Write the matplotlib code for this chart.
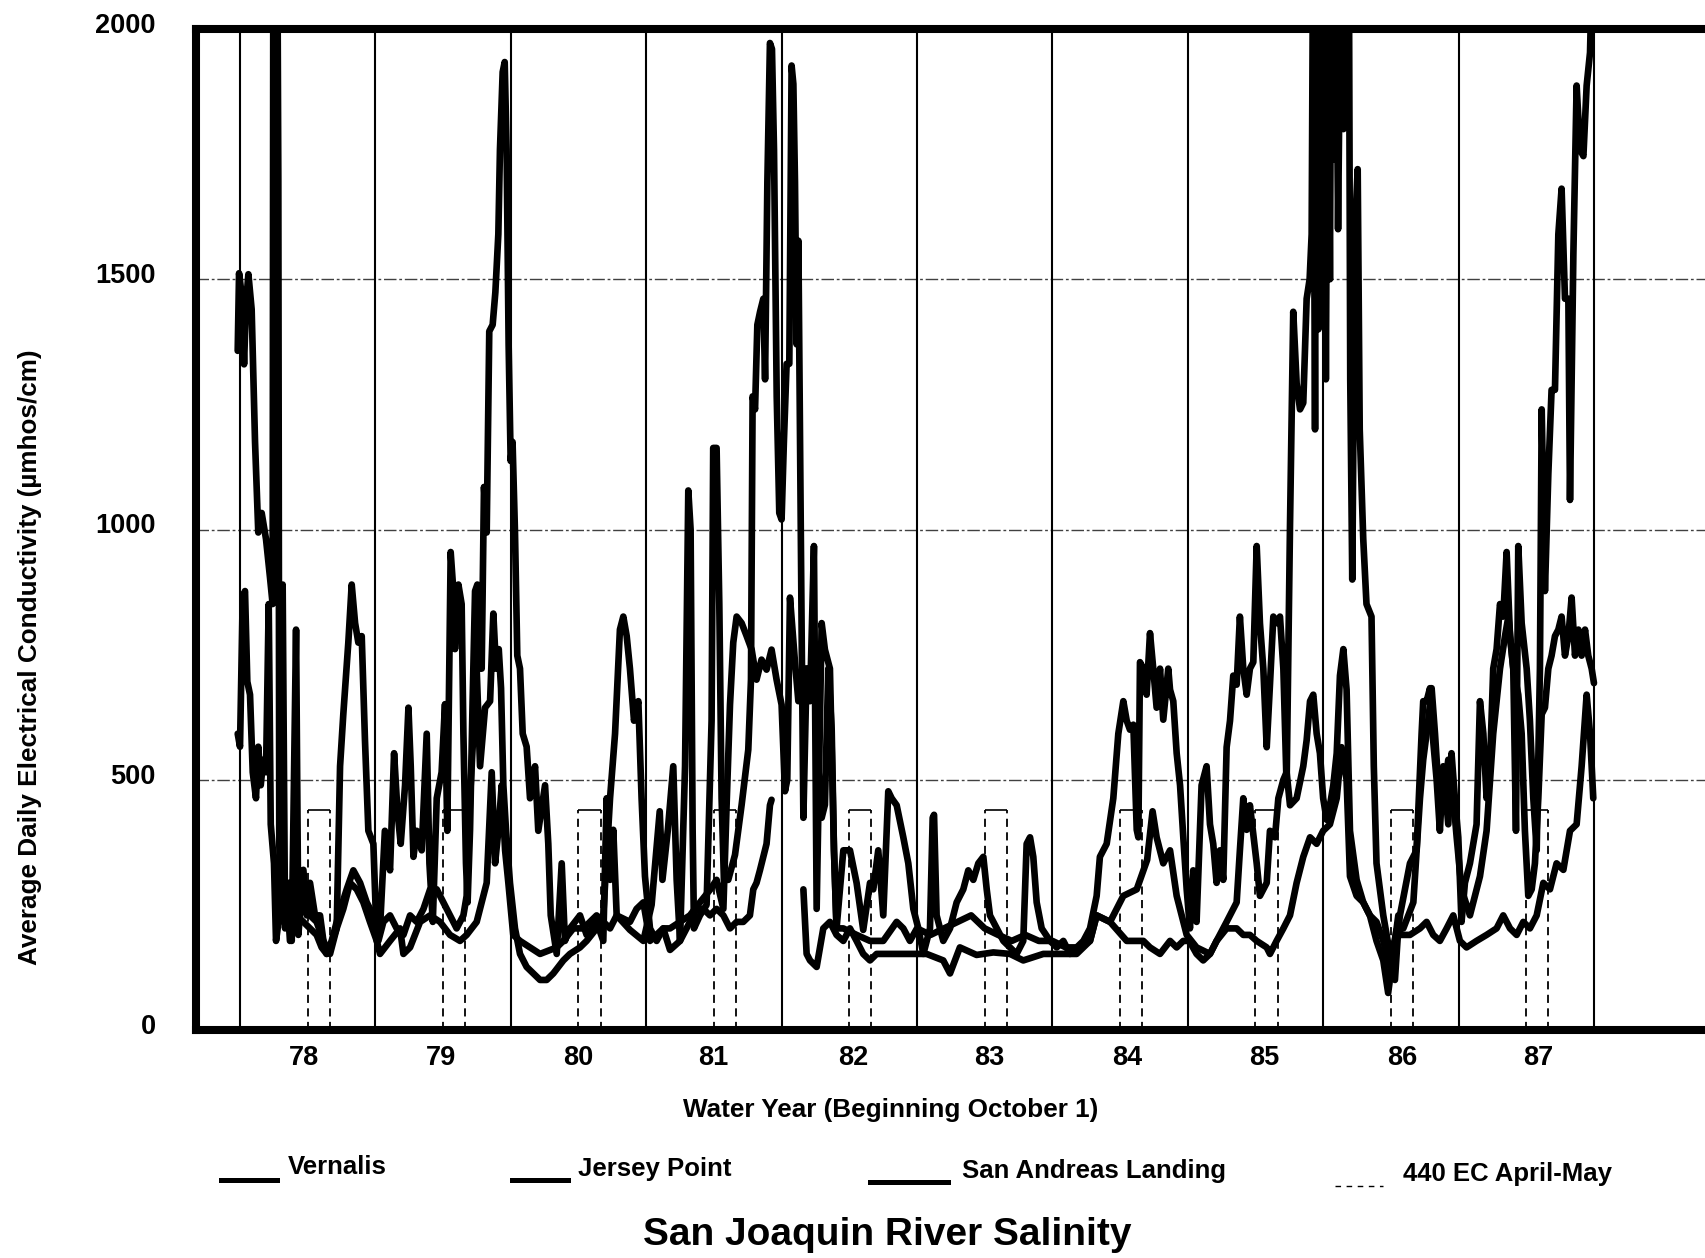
import numpy as np
import matplotlib.pyplot as plt
import matplotlib.transforms as mtransforms
from matplotlib.lines import Line2D

plt.rcParams['font.family'] = ['Liberation Sans', 'DejaVu Sans']
plt.rcParams['font.weight'] = 'bold'

# x = years counted from 1 Oct 1977 (start of water year 78)
water_years = ['78', '79', '80', '81', '82', '83', '84', '85', '86', '87']
label_pos = [0.476, 1.488, 2.500, 3.493, 4.532, 5.535, 6.555, 7.567, 8.586, 9.591]
april_may_limit = 440

# Jersey Point (the series with the big autumn peaks)
jersey_x = [-0.017, -0.007, 0.012, 0.030, 0.044, 0.062, 0.086, 0.111, 0.135, 0.160, 0.192, 0.222, 0.241, 0.246,
            0.262, 0.276, 0.283, 0.290, 0.308, 0.345, 0.369, 0.419, 0.468, 0.517, 0.566, 0.616, 0.665, 0.714,
            0.739, 0.763, 0.800, 0.825, 0.850, 0.874, 0.899, 0.923, 0.948, 0.985, 1.010, 1.034, 1.070, 1.108,
            1.138, 1.163, 1.187, 1.219, 1.244, 1.261, 1.281, 1.305, 1.342, 1.379, 1.399, 1.424, 1.453, 1.489,
            1.514, 1.531, 1.556, 1.576, 1.588, 1.613, 1.637, 1.650, 1.669, 1.681, 1.699, 1.718, 1.736, 1.753,
            1.768, 1.785, 1.802, 1.822, 1.841, 1.866, 1.886, 1.908, 1.920, 1.940, 1.955, 1.969, 1.984, 1.999,
            2.013, 2.031, 2.048, 2.068, 2.088, 2.117, 2.142, 2.179, 2.203, 2.253, 2.277, 2.295, 2.339, 2.376,
            2.400, 2.437, 2.511, 2.560, 2.634, 2.683, 2.708, 2.733, 2.757, 2.782, 2.880, 2.979, 3.040, 3.100,
            3.120, 3.160, 3.200, 3.225, 3.250, 3.287, 3.311, 3.328, 3.343, 3.353, 3.397, 3.446, 3.483, 3.495,
            3.520, 3.540, 3.557, 3.574, 3.606, 3.656, 3.705, 3.754, 3.774, 3.786, 3.804, 3.821, 3.841, 3.865,
            3.878, 3.895, 3.914, 3.929, 3.944, 3.964, 3.983, 4.000, 4.017, 4.037, 4.057, 4.074, 4.087, 4.099,
            4.111, 4.124, 4.136, 4.148, 4.161, 4.185, 4.210, 4.239, 4.259, 4.296, 4.320, 4.357, 4.387, 4.406,
            4.456, 4.505, 4.554, 4.603, 4.653, 4.677, 4.714, 4.751, 4.788, 4.813, 4.850, 4.899, 4.936, 4.973,
            5.010, 5.047, 5.096, 5.116, 5.126, 5.145, 5.194, 5.244, 5.293, 5.342, 5.379, 5.416, 5.453, 5.490,
            5.515, 5.539, 5.589, 5.638, 5.687, 5.736, 5.785, 5.810, 5.835, 5.859, 5.884, 5.921, 5.983, 6.032,
            6.081, 6.130, 6.179, 6.229, 6.278, 6.327, 6.351, 6.401, 6.450, 6.487, 6.524, 6.549, 6.573, 6.598,
            6.623, 6.635, 6.647, 6.672, 6.696, 6.721, 6.745, 6.770, 6.795, 6.819, 6.856, 6.869, 6.893, 6.918,
            6.943, 6.967, 6.992, 7.016, 7.040, 7.065, 7.102, 7.139, 7.164, 7.188, 7.213, 7.238, 7.262, 7.287,
            7.312, 7.336, 7.361, 7.385, 7.410, 7.435, 7.459, 7.484, 7.509, 7.533, 7.558, 7.583, 7.607, 7.632,
            7.656, 7.681, 7.706, 7.730, 7.755, 7.779, 7.804, 7.829, 7.853, 7.878, 7.900, 7.915, 7.925, 7.940,
            7.950, 7.965, 7.975, 7.995, 8.005, 8.020, 8.035, 8.050, 8.060, 8.080, 8.095, 8.110, 8.130, 8.150,
            8.170, 8.190, 8.200, 8.215, 8.235, 8.255, 8.270, 8.296, 8.320, 8.357, 8.374, 8.394, 8.444, 8.493,
            8.530, 8.555, 8.567, 8.641, 8.690, 8.727, 8.739, 8.764, 8.789, 8.808, 8.838, 8.862, 8.887, 8.924,
            8.948, 8.973, 8.998, 9.022, 9.047, 9.084, 9.133, 9.158, 9.183, 9.207, 9.232, 9.256, 9.281, 9.306,
            9.330, 9.355, 9.380, 9.404, 9.424, 9.441, 9.466, 9.503, 9.527, 9.552, 9.577, 9.601, 9.614, 9.638,
            9.663, 9.687, 9.712, 9.737, 9.761, 9.786, 9.811, 9.823, 9.848, 9.872, 9.897, 9.922, 9.946, 9.971,
            9.988, 9.995]
jersey_ec = [1357, 1512, 1470, 1330, 1450, 1510, 1440, 1175, 994, 1033, 981, 903, 851, 2150,
             2150, 2150, 1700, 372, 229, 281, 178, 242, 268, 229, 216, 178, 152, 203,
             527, 631, 774, 890, 813, 774, 787, 579, 398, 372, 178, 203, 398, 319,
             553, 437, 372, 489, 644, 527, 346, 398, 359, 592, 333, 216, 463, 515,
             651, 398, 955, 877, 761, 890, 851, 592, 333, 255, 400, 657, 877, 890,
             722, 722, 1085, 994, 1396, 1409, 1474, 1590, 1759, 1914, 1934, 1759, 1370, 1137,
             1175, 994, 748, 722, 592, 566, 463, 527, 398, 489, 372, 229, 152, 333,
             178, 203, 229, 190, 216, 178, 463, 300, 400, 229, 200, 178, 250, 437,
             300, 400, 527, 300, 178, 527, 1078, 1000, 400, 203, 229, 250, 618, 1163,
             1163, 851, 463, 300, 300, 350, 450, 560, 700, 1266, 1240, 1409, 1435, 1461,
             1300, 1694, 1972, 1960, 1759, 1266, 1033, 1020, 1175, 1331, 1331, 1927, 1890, 1694,
             1370, 1577, 1188, 800, 424, 722, 657, 967, 242, 813, 760, 722, 359, 203,
             359, 359, 294, 200, 294, 281, 359, 229, 477, 463, 449, 385, 333, 242,
             203, 152, 203, 424, 430, 229, 178, 203, 255, 281, 319, 300, 333, 346,
             281, 229, 203, 178, 165, 152, 178, 372, 385, 346, 255, 203, 178, 165,
             178, 152, 165, 178, 203, 268, 346, 372, 463, 592, 657, 618, 600, 610,
             400, 385, 735, 722, 670, 793, 722, 644, 722, 620, 722, 680, 657, 553,
             489, 385, 281, 203, 319, 216, 489, 527, 411, 372, 294, 359, 300, 565,
             618, 708, 690, 826, 722, 670, 722, 735, 967, 813, 722, 565, 690, 826,
             813, 826, 722, 489, 1007, 1435, 1292, 1240, 1253, 1461, 1500, 1590, 2150, 1200,
             2150, 1400, 2150, 1710, 2150, 1300, 2150, 1500, 2150, 1740, 2150, 1600, 2150, 1800,
             2150, 2150, 1300, 900, 1600, 1720, 1200, 981, 851, 826, 527, 333, 229, 152,
             100, 203, 229, 333, 359, 592, 657, 657, 683, 592, 500, 398, 527, 411,
             553, 463, 385, 216, 294, 333, 411, 657, 592, 463, 527, 722, 761, 851,
             826, 955, 787, 722, 398, 967, 813, 722, 618, 463, 359, 722, 1240, 877,
             1111, 1279, 1279, 1590, 1681, 1461, 1461, 1059, 1551, 1887, 1759, 1746, 1887, 1953,
             2150, 2150]

# Vernalis
vernalis_x = [-0.017, 0.000, 0.020, 0.037, 0.054, 0.074, 0.094, 0.118, 0.135, 0.153, 0.172, 0.192, 0.212, 0.227,
              0.251, 0.266, 0.291, 0.315, 0.333, 0.357, 0.382, 0.414, 0.431, 0.468, 0.493, 0.517, 0.554, 0.591,
              0.616, 0.640, 0.677, 0.727, 0.788, 0.837, 0.887, 0.936, 0.985, 1.022, 1.059, 1.108, 1.157, 1.207,
              1.256, 1.305, 1.355, 1.404, 1.453, 1.502, 1.551, 1.600, 1.650, 1.674, 1.699, 1.723, 1.748, 1.773,
              1.810, 1.847, 1.871, 1.891, 1.911, 1.928, 1.945, 1.965, 1.994, 2.031, 2.068, 2.117, 2.167, 2.216,
              2.265, 2.314, 2.388, 2.437, 2.511, 2.560, 2.634, 2.683, 2.733, 2.770, 2.806, 2.831, 2.856, 2.880,
              2.910, 2.942, 2.966, 2.991, 3.028, 3.077, 3.126, 3.176, 3.250, 3.323, 3.397, 3.471, 3.520, 3.570,
              3.594, 3.619, 3.643, 3.668, 3.705, 3.742, 3.779, 3.815, 3.852, 3.889, 3.926, 3.963, 4.000, 4.025,
              4.042, 4.062, 4.099, 4.124, 4.161, 4.210, 4.247, 4.271, 4.296, 4.320, 4.345, 4.370, 4.387, 4.406,
              4.456, 4.554, 4.653, 4.751, 4.850, 4.899, 4.948, 5.000, 5.100, 5.200, 5.300, 5.400, 5.500, 5.600,
              5.700, 5.800, 5.900, 6.000, 6.100, 6.200, 6.278, 6.327, 6.426, 6.524, 6.623, 6.700, 6.740, 6.770,
              6.819, 6.869, 6.918, 6.967, 6.992, 7.065, 7.164, 7.213, 7.287, 7.361, 7.385, 7.410, 7.435, 7.459,
              7.509, 7.533, 7.583, 7.607, 7.644, 7.669, 7.706, 7.730, 7.755, 7.804, 7.853, 7.878, 7.903, 7.927,
              7.952, 7.976, 8.000, 8.026, 8.050, 8.075, 8.100, 8.124, 8.149, 8.173, 8.198, 8.247, 8.296, 8.345,
              8.394, 8.444, 8.493, 8.542, 8.592, 8.666, 8.715, 8.739, 8.776, 8.801, 8.826, 8.850, 8.887, 8.924,
              8.961, 8.986, 9.022, 9.084, 9.158, 9.207, 9.256, 9.306, 9.343, 9.368, 9.404, 9.441, 9.466, 9.490,
              9.515, 9.540, 9.564, 9.589, 9.614, 9.638, 9.663, 9.687, 9.712, 9.737, 9.761, 9.786, 9.811, 9.835,
              9.860, 9.885, 9.909, 9.934, 9.958, 9.983, 10.000]
vernalis_ec = [592, 566, 864, 877, 696, 670, 515, 463, 566, 489, 540, 515, 851, 411,
               333, 178, 229, 890, 203, 294, 178, 800, 190, 320, 229, 294, 229, 229,
               178, 152, 178, 229, 281, 319, 294, 255, 229, 178, 216, 229, 203, 190,
               229, 216, 242, 281, 281, 255, 229, 203, 229, 268, 463, 592, 722, 527,
               644, 657, 832, 722, 761, 683, 489, 398, 294, 203, 152, 126, 113, 100,
               100, 113, 139, 152, 165, 178, 203, 229, 463, 592, 800, 826, 787, 722,
               618, 657, 463, 307, 203, 178, 203, 203, 216, 229, 255, 280, 300, 242,
               450, 650, 774, 826, 813, 787, 760, 700, 740, 720, 760, 700, 650, 477,
               500, 864, 735, 657, 722, 722, 693, 527, 424, 450, 722, 600, 359, 203,
               203, 190, 178, 178, 216, 203, 178, 203, 190, 203, 216, 229, 203, 190,
               178, 190, 178, 178, 165, 165, 178, 229, 216, 268, 281, 340, 437, 385,
               333, 359, 268, 216, 190, 165, 152, 178, 216, 255, 359, 463, 400, 449,
               333, 268, 294, 398, 385, 463, 500, 515, 449, 463, 527, 579, 657, 670,
               592, 553, 463, 420, 449, 489, 553, 708, 761, 680, 398, 300, 255, 229,
               216, 178, 126, 200, 203, 255, 463, 540, 618, 683, 592, 489, 463, 540,
               463, 385, 281, 229, 307, 398, 592, 722, 787, 826, 722, 670, 592, 398,
               268, 281, 333, 463, 631, 644, 722, 748, 787, 800, 826, 748, 787, 864,
               748, 800, 748, 800, 748, 722, 693]

# San Andreas Landing (record has a gap late in water year 81)
andreas_x = [0.276, 0.320, 0.369, 0.419, 0.468, 0.517, 0.566, 0.603, 0.640, 0.665, 0.714, 0.763, 0.813, 0.862,
             0.911, 0.960, 1.010, 1.034, 1.108, 1.182, 1.207, 1.256, 1.330, 1.404, 1.477, 1.551, 1.625, 1.674,
             1.748, 1.822, 1.859, 1.884, 1.908, 1.933, 1.958, 1.982, 2.018, 2.068, 2.142, 2.216, 2.339, 2.388,
             2.462, 2.536, 2.585, 2.634, 2.683, 2.733, 2.782, 2.880, 2.929, 2.979, 3.028, 3.126, 3.176, 3.250,
             3.323, 3.372, 3.422, 3.471, 3.520, 3.570, 3.619, 3.668, 3.717, 3.766, 3.791, 3.815, 3.840, 3.865,
             3.889, 3.914, 3.926, 4.040, 4.161, 4.185, 4.210, 4.259, 4.308, 4.357, 4.406, 4.456, 4.505, 4.554,
             4.603, 4.653, 4.702, 4.776, 4.850, 4.899, 4.998, 5.071, 5.194, 5.244, 5.317, 5.440, 5.564, 5.687,
             5.785, 5.933, 6.032, 6.179, 6.278, 6.327, 6.426, 6.549, 6.672, 6.721, 6.795, 6.869, 6.918, 6.967,
             7.011, 7.065, 7.114, 7.164, 7.213, 7.287, 7.361, 7.410, 7.459, 7.509, 7.583, 7.607, 7.656, 7.706,
             7.755, 7.804, 7.853, 7.903, 7.952, 8.000, 8.050, 8.100, 8.136, 8.173, 8.198, 8.247, 8.296, 8.345,
             8.394, 8.444, 8.480, 8.518, 8.555, 8.567, 8.641, 8.715, 8.764, 8.813, 8.862, 8.912, 8.961, 9.010,
             9.059, 9.133, 9.207, 9.281, 9.330, 9.380, 9.429, 9.478, 9.527, 9.577, 9.626, 9.675, 9.724, 9.774,
             9.823, 9.872, 9.909, 9.946, 9.971, 9.995]
andreas_ec = [255, 216, 242, 229, 216, 203, 190, 165, 152, 165, 203, 242, 294, 281,
              255, 216, 178, 152, 178, 203, 152, 165, 216, 229, 216, 190, 178, 190,
              216, 294, 515, 333, 398, 489, 359, 294, 190, 178, 165, 152, 165, 178,
              203, 203, 216, 229, 216, 203, 229, 216, 242, 255, 178, 203, 160, 178,
              216, 242, 242, 229, 242, 229, 203, 216, 216, 229, 281, 294, 319, 346,
              372, 449, 460, np.nan, 281, 152, 139, 126, 203, 216, 190, 178, 203, 178,
              152, 139, 152, 152, 152, 152, 152, 152, 139, 113, 165, 150, 155, 152,
              139, 152, 152, 152, 178, 229, 216, 178, 178, 165, 152, 178, 165, 178,
              178, 152, 139, 152, 178, 203, 203, 190, 190, 178, 165, 152, 178, 203,
              229, 294, 346, 385, 372, 398, 411, 463, 565, 500, 307, 268, 255, 229,
              178, 139, 74, 152, 229, 190, 190, 203, 216, 190, 178, 203, 229, 178,
              165, 178, 190, 203, 229, 203, 190, 216, 203, 229, 294, 281, 333, 320,
              398, 411, 527, 670, 592, 463]

fig = plt.figure(figsize=(17.05, 12.58), dpi=100)
W, H = 1705, 1258
x_left, x_right = -0.325, 10.894
ax = fig.add_axes([196 / W, 1 - 1030 / H, (1715 - 196) / W, (1030 - 29) / H])

for xs, ys in [(vernalis_x, vernalis_ec), (jersey_x, jersey_ec), (andreas_x, andreas_ec)]:
    ax.plot(xs, ys, color='black', lw=4.8, solid_joinstyle='round', solid_capstyle='round', zorder=3)

# water year boundaries
for k in range(11):
    ax.axvline(k, color='black', lw=1.5, zorder=2)

# 440 EC April-May standard
for k in range(len(water_years)):
    a, b = k + 0.5, k + 0.664
    ax.vlines([a, b], 0, april_may_limit, colors='black', lw=1.3, linestyles=(0, (4.5, 3)), zorder=2)
    ax.hlines(april_may_limit, a, b, colors='black', lw=1.2, zorder=2)

for v in [500, 1000, 1500]:
    ax.axhline(v, color='0.25', lw=1.0, linestyle=(0, (9, 2, 2, 2)), zorder=1)

ax.set_xlim(x_left, x_right)
ax.set_ylim(0, 2000)
ax.set_yticks([0, 500, 1000, 1500, 2000])
ax.set_xticks(label_pos)
ax.set_xticklabels(water_years)
ax.tick_params(axis='both', length=0, labelsize=19.5)
ax.tick_params(axis='y', pad=29)
ax.tick_params(axis='x', pad=11)
up = mtransforms.ScaledTranslation(0, 6 / 100, fig.dpi_scale_trans)
for lab in ax.get_yticklabels():
    lab.set_transform(lab.get_transform() + up)
for lab in ax.get_xticklabels() + ax.get_yticklabels():
    lab.set_fontweight('bold')

for side in ['left', 'top', 'bottom']:
    ax.spines[side].set_linewidth(5.8)
ax.spines['right'].set_visible(False)

fig.text(891 / W, 1 - 1110 / H, 'Water Year (Beginning October 1)', ha='center', va='center',
         fontsize=18.8, fontweight='bold')
fig.text(30 / W, 1 - 657 / H, 'Average Daily Electrical Conductivity (µmhos/cm)', ha='center', va='center',
         rotation=90, fontsize=18.8, fontweight='bold')

# legend row
legend_items = [('Vernalis', 221, 277, 1180, 288, 1167, '-'),
                ('Jersey Point', 512, 568, 1180, 578, 1169, '-'),
                ('San Andreas Landing', 870, 948, 1182, 962, 1171, '-'),
                ('440 EC April-May', 1335, 1383, 1186, 1403, 1174, '--')]
for name, x0, x1, ly, tx, ty, ls in legend_items:
    if ls == '-':
        fig.add_artist(Line2D([x0 / W, x1 / W], [1 - ly / H, 1 - ly / H], color='black', lw=3.6))
    else:
        fig.add_artist(Line2D([x0 / W, x1 / W], [1 - ly / H, 1 - ly / H], color='black', lw=1.0,
                              linestyle=(0, (4, 4))))
    fig.text(tx / W, 1 - ty / H, name, ha='left', va='center', fontsize=18.5, fontweight='bold')

fig.text(887 / W, 1 - 1235 / H, 'San Joaquin River Salinity', ha='center', va='center',
         fontsize=28, fontweight='bold')

fig.savefig('out.png', dpi=100, facecolor='white')
